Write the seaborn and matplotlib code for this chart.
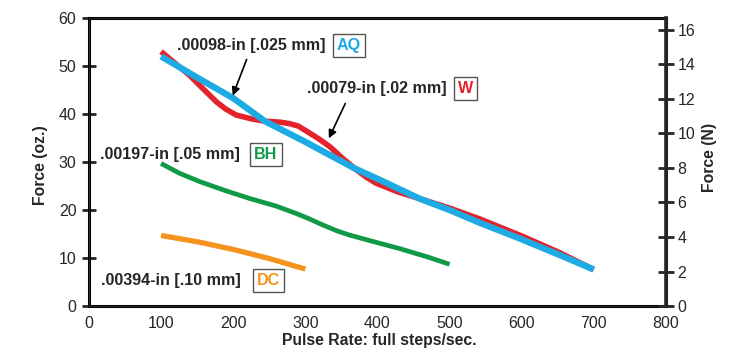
import matplotlib
matplotlib.use("Agg")
import matplotlib.pyplot as plt
import seaborn as sns

# Force vs pulse rate for four step sizes
w_rate = [100, 120, 140, 160, 177, 190, 204, 225, 244, 265, 278, 290, 301, 318,
          334, 350, 368, 385, 398, 428, 458, 500, 541, 600, 650, 700]
w_force = [53, 50.5, 48, 45, 42.5, 41, 39.8, 39, 38.5, 38.3, 38.0, 37.5, 36.5, 34.9,
           33.2, 31, 28.7, 26.8, 25.6, 23.8, 22.4, 20.4, 18.2, 14.6, 11.3, 7.6]

aq_rate = [100, 150, 200, 244, 300, 368, 403, 458, 500, 541, 600, 650, 700]
aq_force = [52, 47.6, 43.3, 38.5, 34.2, 28.7, 26.3, 22.4, 20, 17.4, 13.9, 10.8, 7.6]

bh_rate = [100, 125, 154, 190, 223, 260, 287, 305, 324, 345, 361, 400, 430, 470, 500]
bh_force = [29.7, 27.7, 25.9, 24.0, 22.4, 20.8, 19.3, 18.2, 16.9, 15.6, 14.8, 13.2, 12.0, 10.2, 8.7]

dc_rate = [100, 150, 200, 250, 300]
dc_force = [14.7, 13.4, 11.8, 9.9, 7.7]

x_ticks = [0, 100, 200, 300, 400, 500, 600, 700, 800]
oz_ticks = [0, 10, 20, 30, 40, 50, 60]
n_ticks = [0, 2, 4, 6, 8, 10, 12, 14, 16]
OZ_TO_N = 0.278014

RED = "#e4222b"
BLUE = "#1eaae2"
GREEN = "#109a48"
ORANGE = "#f6921e"

sns.set_style("white")
plt.rcParams["font.family"] = ["Liberation Sans", "DejaVu Sans"]

fig = plt.figure(figsize=(7.29, 3.53), dpi=100)
ax = fig.add_axes([0.122, 0.133, 0.7915, 0.816])

sns.lineplot(x=w_rate, y=w_force, color=RED, linewidth=4.0, ax=ax)
sns.lineplot(x=aq_rate, y=aq_force, color=BLUE, linewidth=4.6, ax=ax)
sns.lineplot(x=bh_rate, y=bh_force, color=GREEN, linewidth=3.4, ax=ax)
sns.lineplot(x=dc_rate, y=dc_force, color=ORANGE, linewidth=3.8, ax=ax)
for ln in ax.lines:
    ln.set_solid_capstyle("butt")

ax.set_xlim(0, 800)
ax.set_ylim(0, 60)
ax.set_xticks(x_ticks)
ax.set_yticks(oz_ticks)
ax.tick_params(axis="x", direction="in", length=6.7, width=2, pad=7, labelsize=11.5)
ax.tick_params(axis="y", direction="inout", length=10, width=2, pad=4, labelsize=11.5)
for s in ax.spines.values():
    s.set_linewidth(2.2)
    s.set_color("black")

ax.set_xlabel("Pulse Rate: full steps/sec.", fontsize=11.3, fontweight="bold")
ax.xaxis.set_label_coords(0.504, -0.094)
ax.set_ylabel("Force (oz.)", fontsize=11.3, fontweight="bold")
ax.yaxis.set_label_coords(-0.071, 0.49)

ax2 = ax.twinx()
ax2.set_ylim(0, 60 * OZ_TO_N)
ax2.set_yticks(n_ticks)
ax2.tick_params(axis="y", direction="inout", length=11, width=2, pad=3, labelsize=11.5)
ax2.spines["right"].set_linewidth(2.6)
ax2.set_ylabel("Force (N)", fontsize=11.3, fontweight="bold")
ax2.yaxis.set_label_coords(1.062, 0.517)

# labels with coloured code boxes
labels = [
    (".00098-in [.025 mm]", 122, 54.2, "AQ", 344, BLUE),
    (".00079-in [.02 mm]", 302, 45.4, "W", 512, RED),
    (".00197-in [.05 mm]", 15, 31.5, "BH", 229, GREEN),
    (".00394-in [.10 mm]", 17, 5.4, "DC", 233, ORANGE),
]
for txt, tx, ty, code, bx, col in labels:
    ax.text(tx, ty, txt, fontsize=11.6, fontweight="bold", ha="left", va="center")
    ax.text(bx, ty, code, fontsize=11.6, fontweight="bold", color=col, ha="left",
            va="center",
            bbox=dict(boxstyle="square,pad=0.25", fc="white", ec="#555555", lw=1.0))

arrow = dict(arrowstyle="-|>", color="black", lw=1.2, mutation_scale=12)
ax.annotate("", xy=(198, 43.3), xytext=(220, 51.9), arrowprops=arrow)
ax.annotate("", xy=(331, 34.4), xytext=(357, 42.7), arrowprops=arrow)

fig.savefig("out.png", dpi=100)
